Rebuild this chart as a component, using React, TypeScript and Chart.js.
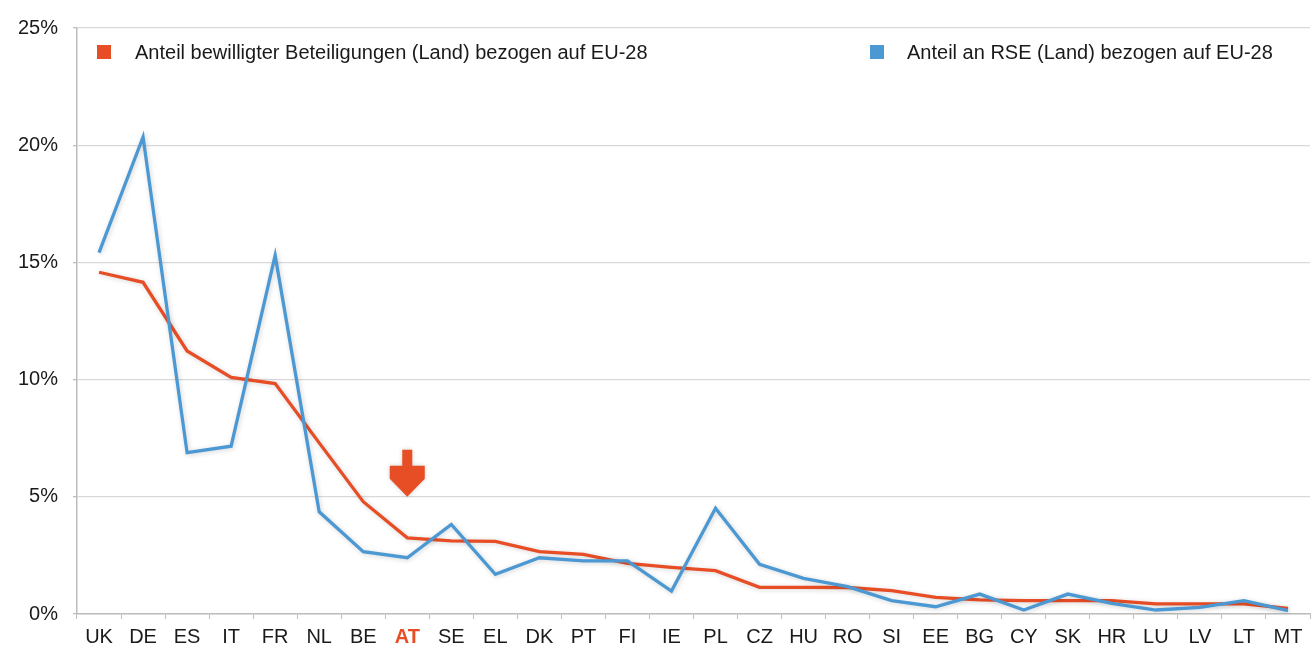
import React, { useEffect, useRef } from "react";
import { Chart, registerables } from "chart.js";

Chart.register(...registerables);

const categories = ["UK","DE","ES","IT","FR","NL","BE","AT","SE","EL","DK","PT","FI","IE","PL","CZ","HU","RO","SI","EE","BG","CY","SK","HR","LU","LV","LT","MT"];
const beteiligungen = [14.58,14.15,11.22,10.09,9.83,7.3,4.79,3.25,3.12,3.10,2.66,2.54,2.16,1.99,1.85,1.14,1.14,1.13,1.0,0.71,0.6,0.57,0.57,0.57,0.43,0.43,0.43,0.24];
const rse = [15.42,20.35,6.88,7.16,15.30,4.36,2.66,2.40,3.82,1.69,2.40,2.27,2.27,0.98,4.51,2.12,1.52,1.17,0.57,0.31,0.85,0.17,0.85,0.45,0.17,0.28,0.57,0.14];
const yTicks = [0, 5, 10, 15, 20, 25];
const highlight = "AT";
const legendRed = "Anteil bewilligter Beteiligungen (Land) bezogen auf EU-28";
const legendBlue = "Anteil an RSE (Land) bezogen auf EU-28";

const RED = "#E84E25";
const BLUE = "#4B98D3";
const FONT = "'Liberation Sans', Arimo, Arial, sans-serif";

export default function App() {
  const ref = useRef<HTMLCanvasElement>(null);
  useEffect(() => {
    if (!ref.current) return;
    const shadowPlugin = {
      id: "shadow",
      beforeDatasetsDraw(chart: any) {
        const ctx = chart.ctx;
        ctx.save();
        ctx.shadowColor = "rgba(0,0,0,0.18)";
        ctx.shadowBlur = 5;
        ctx.shadowOffsetX = 1;
        ctx.shadowOffsetY = 1;
      },
      afterDatasetsDraw(chart: any) {
        chart.ctx.restore();
      },
    };
    const extras = {
      id: "extras",
      afterDraw(chart: any) {
        const ctx = chart.ctx;
        const xs = chart.scales.x;
        const ys = chart.scales.y;
        const area = chart.chartArea;
        // arrow above highlighted category
        const idx = categories.indexOf(highlight);
        const cx = xs.getPixelForValue(idx);
        const tip = ys.getPixelForValue(5);
        ctx.save();
        ctx.shadowColor = "rgba(0,0,0,0.2)";
        ctx.shadowBlur = 4;
        ctx.fillStyle = RED;
        ctx.beginPath();
        ctx.moveTo(cx - 5, tip - 47);
        ctx.lineTo(cx + 5, tip - 47);
        ctx.lineTo(cx + 5, tip - 31);
        ctx.lineTo(cx + 17.5, tip - 31);
        ctx.lineTo(cx + 17.5, tip - 18);
        ctx.lineTo(cx, tip);
        ctx.lineTo(cx - 17.5, tip - 18);
        ctx.lineTo(cx - 17.5, tip - 31);
        ctx.lineTo(cx - 5, tip - 31);
        ctx.closePath();
        ctx.fill();
        ctx.restore();
        // legend
        ctx.save();
        ctx.font = "20px " + FONT;
        ctx.textBaseline = "alphabetic";
        const base = area.top + 31;
        ctx.fillStyle = RED;
        ctx.fillRect(area.left + 20, area.top + 17, 14, 14);
        ctx.fillStyle = "#1a1a1a";
        ctx.fillText(legendRed, area.left + 58, base);
        ctx.fillStyle = BLUE;
        ctx.fillRect(area.left + 793, area.top + 17, 14, 14);
        ctx.fillStyle = "#1a1a1a";
        ctx.fillText(legendBlue, area.left + 830, base);
        ctx.restore();
      },
    };
    const chart = new Chart(ref.current, {
      type: "line",
      data: {
        labels: categories,
        datasets: [
          { label: legendBlue, data: rse, borderColor: BLUE, backgroundColor: BLUE, borderWidth: 3.3, pointRadius: 0, tension: 0, order: 0 },
          { label: legendRed, data: beteiligungen, borderColor: RED, backgroundColor: RED, borderWidth: 3.3, pointRadius: 0, tension: 0, order: 1 },
        ],
      },
      options: {
        responsive: false,
        animation: false,
        layout: { padding: { top: 28, right: 3, left: 0, bottom: 0 } },
        plugins: { legend: { display: false }, tooltip: { enabled: false } },
        scales: {
          x: {
            offset: true,
            grid: { offset: true, drawOnChartArea: false, tickLength: 5, color: "#bdbdbd", lineWidth: 1 },
            border: { color: "#bdbdbd", width: 1.5 },
            ticks: {
              padding: 6,
              autoSkip: false,
              maxRotation: 0,
              color: (c: any) => (categories[c.index] === highlight ? RED : "#1a1a1a"),
              font: (c: any) => ({ family: FONT, size: 20, weight: categories[c.index] === highlight ? 700 : 400 }),
            },
            afterFit(s: any) { s.height = 34; },
          },
          y: {
            min: 0,
            max: 25,
            afterBuildTicks(s: any) { s.ticks = yTicks.map((v) => ({ value: v })); },
            grid: { color: "#d9d9d9", lineWidth: 1.3, tickLength: 4, tickColor: "#bdbdbd" },
            border: { color: "#bdbdbd", width: 1.5 },
            ticks: {
              padding: 15,
              color: "#1a1a1a",
              font: { family: FONT, size: 20 },
              callback: (v: any) => v + "%",
            },
            afterFit(s: any) { s.width = 77; },
          },
        },
      },
      plugins: [shadowPlugin, extras],
    });
    return () => chart.destroy();
  }, []);
  return (
    <div style={{ position: "fixed", left: 0, top: 0, width: 1313, height: 648, background: "#fff" }}>
      <canvas ref={ref} width={1313} height={648} style={{ display: "block" }} />
    </div>
  );
}
